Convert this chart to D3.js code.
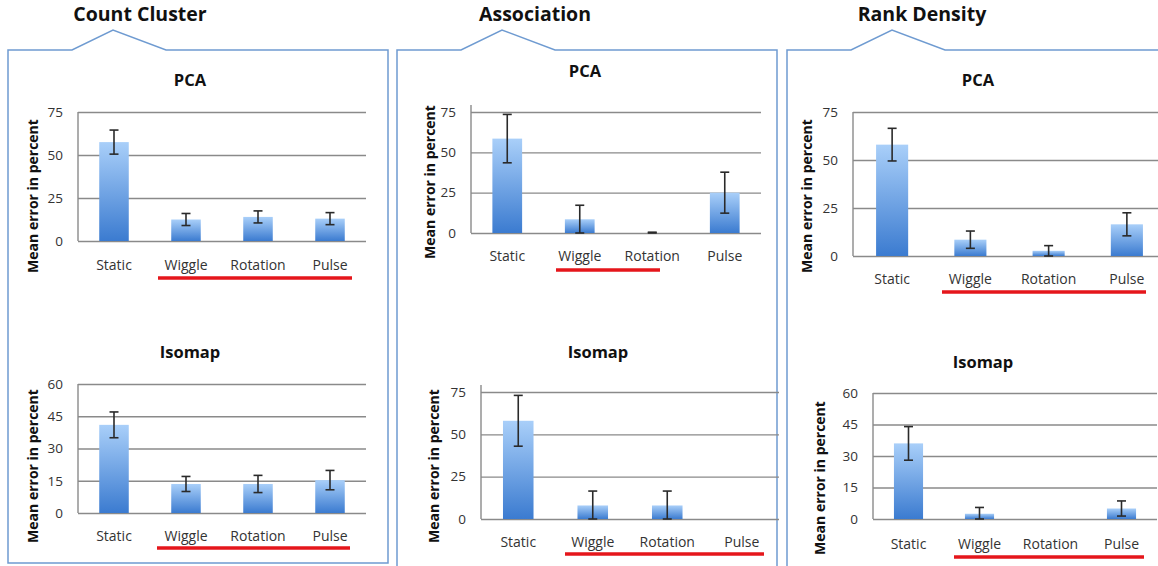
<!DOCTYPE html>
<html>
<head>
<meta charset="utf-8">
<script src="https://cdn.jsdelivr.net/npm/d3@7"></script>
<style>
  body { margin: 0; background: #fff; }
  svg { display: block; font-family: "Open Sans", sans-serif; }
</style>
</head>
<body>
<div id="svg-container"></div>
<script>
////////////////////////////////////////////////////////////////////
////////////////////////////  Data  ////////////////////////////////
const categories = ["Static", "Wiggle", "Rotation", "Pulse"];
const panelTitles = ["Count Cluster", "Association", "Rank Density"];
const chartTitles = ["PCA", "Isomap"];

const pcaTicks = [0, 25, 50, 75];
const isoTicks = [0, 15, 30, 45, 60];

// Count Cluster
const ccPcaMean = [57.5, 12.5, 14, 13];
const ccPcaErr = [7, 3.5, 3.5, 3.5];
const ccIsoMean = [41, 13.5, 13.5, 15.3];
const ccIsoErr = [6, 3.5, 4, 4.5];

// Association
const asPcaMean = [58.5, 8.5, 0, 25];
const asPcaErr = [15, 8.7, 0.5, 12.7];
const asIsoMean = [58, 8, 8, null];
const asIsoErr = [15, 8.5, 8.5, null];

// Rank Density
const rdPcaMean = [58, 8.5, 2.7, 16.5];
const rdPcaErr = [8.5, 4.5, 2.7, 6];
const rdIsoMean = [36, 2.5, null, 5];
const rdIsoErr = [8, 3, null, 3.6];

////////////////////////////////////////////////////////////////////
////////////////////////////  Layout  //////////////////////////////
const width = 1158;
const height = 566;

const svg = d3.select("#svg-container").append("svg")
  .attr("width", width)
  .attr("height", height);

// gradient for the bars
const grad = svg.append("defs").append("linearGradient")
  .attr("id", "barGrad")
  .attr("x1", 0).attr("y1", 0).attr("x2", 0).attr("y2", 1);
grad.append("stop").attr("offset", "0%").attr("stop-color", "#a9cff9");
grad.append("stop").attr("offset", "100%").attr("stop-color", "#3b7bd0");

// panel frames
const panels = [
  { title: panelTitles[0], left: 8, right: 388, bottom: 563, notch: 72, tx: 140 },
  { title: panelTitles[1], left: 397, right: 777, bottom: 580, notch: 461, tx: 535 },
  { title: panelTitles[2], left: 787, right: 1175, bottom: 580, notch: 851, tx: 922 }
];

const charts = [
  { title: chartTitles[0], mean: ccPcaMean, err: ccPcaErr, ticks: pcaTicks,
    x0: 78, x1: 366, yTop: 112, yBot: 241, axisTop: 112, tx: 190, ty: 80, ly: 265, uy: 278, ux: [158, 352], yl: [33, 196] },
  { title: chartTitles[1], mean: ccIsoMean, err: ccIsoErr, ticks: isoTicks,
    x0: 78, x1: 366, yTop: 384, yBot: 513, axisTop: 384, tx: 190, ty: 352, ly: 536, uy: 548, ux: [157, 350], yl: [33, 466] },
  { title: chartTitles[0], mean: asPcaMean, err: asPcaErr, ticks: pcaTicks,
    x0: 471, x1: 761, yTop: 112, yBot: 233, axisTop: 105, tx: 585, ty: 71, ly: 256, uy: 270, ux: [556, 660], yl: [430, 182] },
  { title: chartTitles[1], mean: asIsoMean, err: asIsoErr, ticks: pcaTicks,
    x0: 481, x1: 779, yTop: 392, yBot: 519, axisTop: 385, tx: 598, ty: 352, ly: 542, uy: 554, ux: [565, 764], yl: [434, 466] },
  { title: chartTitles[0], mean: rdPcaMean, err: rdPcaErr, ticks: pcaTicks,
    x0: 853, x1: 1166, yTop: 112, yBot: 256, axisTop: 112, tx: 978, ty: 80, ly: 279, uy: 292, ux: [942, 1146], yl: [807, 196] },
  { title: chartTitles[1], mean: rdIsoMean, err: rdIsoErr, ticks: isoTicks,
    x0: 873, x1: 1157, yTop: 393, yBot: 519, axisTop: 393, tx: 983, ty: 362, ly: 544, uy: 557, ux: [954, 1144], yl: [820, 478] }
];

////////////////////////////////////////////////////////////////////
////////////////////////////  Frames  //////////////////////////////
panels.forEach((p) => {
  const path = d3.path();
  path.moveTo(p.left, p.bottom);
  path.lineTo(p.left, 50);
  path.lineTo(p.notch, 50);
  path.lineTo(p.notch + 41, 30);
  path.lineTo(p.notch + 94, 50);
  path.lineTo(p.right, 50);
  path.lineTo(p.right, p.bottom);
  if (p.bottom < height) path.closePath();

  svg.append("path")
    .attr("d", path.toString())
    .attr("fill", "none")
    .attr("stroke", "#6f9bd1")
    .attr("stroke-width", 1.5);

  svg.append("text")
    .attr("x", p.tx)
    .attr("y", 21)
    .attr("text-anchor", "middle")
    .attr("font-size", 19.5)
    .attr("font-weight", "bold")
    .attr("fill", "#111")
    .text(p.title);
});

////////////////////////////////////////////////////////////////////
////////////////////////////  Charts  //////////////////////////////
charts.forEach((c) => {
  const g = svg.append("g");

  const xScale = d3.scaleBand().domain(categories).range([c.x0, c.x1]);
  const yScale = d3.scaleLinear()
    .domain([0, d3.max(c.ticks)])
    .range([c.yBot, c.yTop]);

  // gridlines + tick labels
  const yAxis = d3.axisLeft(yScale)
    .tickValues(c.ticks)
    .tickSize(-(Math.min(c.x1, width) - c.x0))
    .tickPadding(15);

  const ya = g.append("g")
    .attr("transform", `translate(${c.x0},0)`)
    .call(yAxis);
  ya.select(".domain").remove();
  ya.selectAll(".tick line").attr("stroke", "#8a8a8a").attr("stroke-width", 1.4);
  ya.selectAll(".tick text")
    .attr("font-size", 13.5)
    .attr("fill", "#333")
    .style("font-family", "'Open Sans', sans-serif");

  // vertical axis line
  g.append("line")
    .attr("x1", c.x0).attr("x2", c.x0)
    .attr("y1", c.axisTop).attr("y2", yScale(0))
    .attr("stroke", "#8a8a8a")
    .attr("stroke-width", 1.4);

  // bars
  const rows = categories.map((k, i) => ({ k, v: c.mean[i], e: c.err[i] }))
    .filter((d) => d.v != null);
  const bw = xScale.bandwidth() * 0.41;

  g.selectAll(".bar")
    .data(rows)
    .join("rect")
    .attr("class", "bar")
    .attr("x", (d) => xScale(d.k) + (xScale.bandwidth() - bw) / 2)
    .attr("y", (d) => yScale(d.v))
    .attr("width", bw)
    .attr("height", (d) => yScale(0) - yScale(d.v))
    .attr("fill", "url(#barGrad)");

  // error bars
  const cap = 4.5;
  const eb = g.selectAll(".err")
    .data(rows.filter((d) => d.e))
    .join("g")
    .attr("class", "err")
    .attr("stroke", "#2a2a2a")
    .attr("stroke-width", 1.6);
  const cx = (d) => xScale(d.k) + xScale.bandwidth() / 2;
  const hi = (d) => yScale(d.v + d.e);
  const lo = (d) => yScale(Math.max(0, d.v - d.e));
  eb.append("line").attr("x1", cx).attr("x2", cx).attr("y1", hi).attr("y2", lo);
  eb.append("line").attr("x1", (d) => cx(d) - cap).attr("x2", (d) => cx(d) + cap).attr("y1", hi).attr("y2", hi);
  eb.append("line").attr("x1", (d) => cx(d) - cap).attr("x2", (d) => cx(d) + cap).attr("y1", lo).attr("y2", lo);

  // category labels
  g.selectAll(".cat")
    .data(categories)
    .join("text")
    .attr("class", "cat")
    .attr("x", (d) => xScale(d) + xScale.bandwidth() / 2)
    .attr("y", c.ly)
    .attr("dy", "0.35em")
    .attr("text-anchor", "middle")
    .attr("font-size", 14)
    .attr("fill", "#333")
    .text((d) => d);

  // red underline
  g.append("line")
    .attr("x1", c.ux[0]).attr("x2", c.ux[1])
    .attr("y1", c.uy).attr("y2", c.uy)
    .attr("stroke", "#e5161b")
    .attr("stroke-width", 3.5);

  // chart title
  g.append("text")
    .attr("x", c.tx)
    .attr("y", c.ty)
    .attr("dy", "0.35em")
    .attr("text-anchor", "middle")
    .attr("font-size", 16.5)
    .attr("font-weight", "bold")
    .attr("fill", "#111")
    .text(c.title);

  // y label
  g.append("text")
    .attr("transform", `translate(${c.yl[0]},${c.yl[1]}) rotate(-90)`)
    .attr("dy", "0.35em")
    .attr("text-anchor", "middle")
    .attr("font-size", 14)
    .attr("font-weight", "bold")
    .attr("fill", "#111")
    .text("Mean error in percent");
});
</script>
</body>
</html>
